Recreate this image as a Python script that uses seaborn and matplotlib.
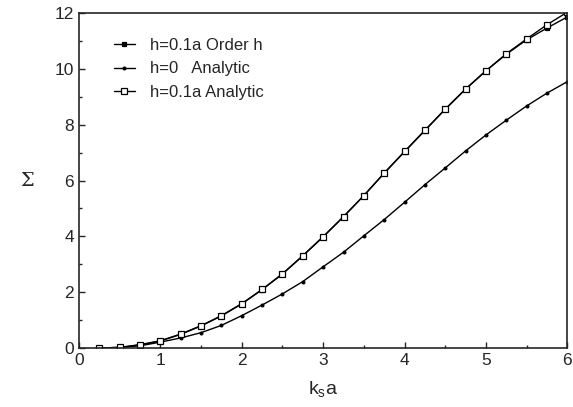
import numpy as np
import pandas as pd
import seaborn as sns
from matplotlib import pyplot as plt
from matplotlib.ticker import MultipleLocator

# k_s a sample points
ksa = [0.25, 0.5, 0.75, 1.0, 1.25, 1.5, 1.75, 2.0, 2.25, 2.5, 2.75, 3.0,
       3.25, 3.5, 3.75, 4.0, 4.25, 4.5, 4.75, 5.0, 5.25, 5.5, 5.75, 6.0]

sigma_order_h = [0.0, 0.02, 0.11, 0.25, 0.49, 0.79, 1.15, 1.58, 2.09, 2.65,
                 3.30, 3.98, 4.70, 5.46, 6.26, 7.03, 7.79, 8.55, 9.27, 9.93,
                 10.52, 11.04, 11.46, 11.86]
sigma_h0 = [0.0, 0.02, 0.08, 0.21, 0.36, 0.55, 0.81, 1.16, 1.54, 1.94,
            2.38, 2.91, 3.43, 4.02, 4.60, 5.22, 5.85, 6.45, 7.06, 7.63,
            8.16, 8.67, 9.13, 9.54]
sigma_analytic = [0.0, 0.02, 0.12, 0.26, 0.50, 0.80, 1.16, 1.59, 2.10, 2.66,
                  3.31, 3.99, 4.71, 5.46, 6.27, 7.04, 7.80, 8.56, 9.28, 9.93,
                  10.54, 11.07, 11.58, 12.03]

labels = ['h=0.1a Order h', 'h=0   Analytic', 'h=0.1a Analytic']

df = pd.DataFrame({
    'ksa': ksa * 3,
    'sigma': sigma_order_h + sigma_h0 + sigma_analytic,
    'series': np.repeat(labels, len(ksa)),
})

sns.set_style('ticks')
plt.rcParams['font.family'] = ['Liberation Sans', 'DejaVu Sans']

fig = plt.figure(figsize=(5.73, 4.07), dpi=100)
ax = fig.add_axes([0.138, 0.145, 0.852, 0.823])

styles = {
    labels[0]: dict(marker='s', markersize=3.5, markerfacecolor='black'),
    labels[1]: dict(marker='o', markersize=2, markerfacecolor='black'),
    labels[2]: dict(marker='s', markersize=5, markerfacecolor='white'),
}
for lab in labels:
    sub = df[df['series'] == lab]
    sns.lineplot(data=sub, x='ksa', y='sigma', ax=ax, color='black',
                 linewidth=1.0, markeredgecolor='black', markeredgewidth=0.9,
                 label=lab, **styles[lab])

ax.set_xlim(0, 6)
ax.set_ylim(0, 12)
ax.xaxis.set_major_locator(MultipleLocator(1))
ax.xaxis.set_minor_locator(MultipleLocator(0.5))
ax.yaxis.set_major_locator(MultipleLocator(2))
ax.yaxis.set_minor_locator(MultipleLocator(1))
ax.tick_params(which='both', direction='in', labelsize=12.5, width=1)
ax.tick_params(which='major', length=4)
ax.tick_params(which='minor', length=2)
for s in ax.spines.values():
    s.set_linewidth(1.2)

ax.set_xlabel(r'$\mathregular{k_s a}$', fontsize=14, labelpad=8)
ax.set_ylabel('Σ', fontsize=14, family='DejaVu Serif', rotation=0,
              labelpad=20, va='center')

ax.legend(loc='upper left', bbox_to_anchor=(0.04, 0.97), frameon=False,
          fontsize=12, handlelength=1.3, labelspacing=0.5, handletextpad=0.9)

fig.savefig('out.png', dpi=100)
